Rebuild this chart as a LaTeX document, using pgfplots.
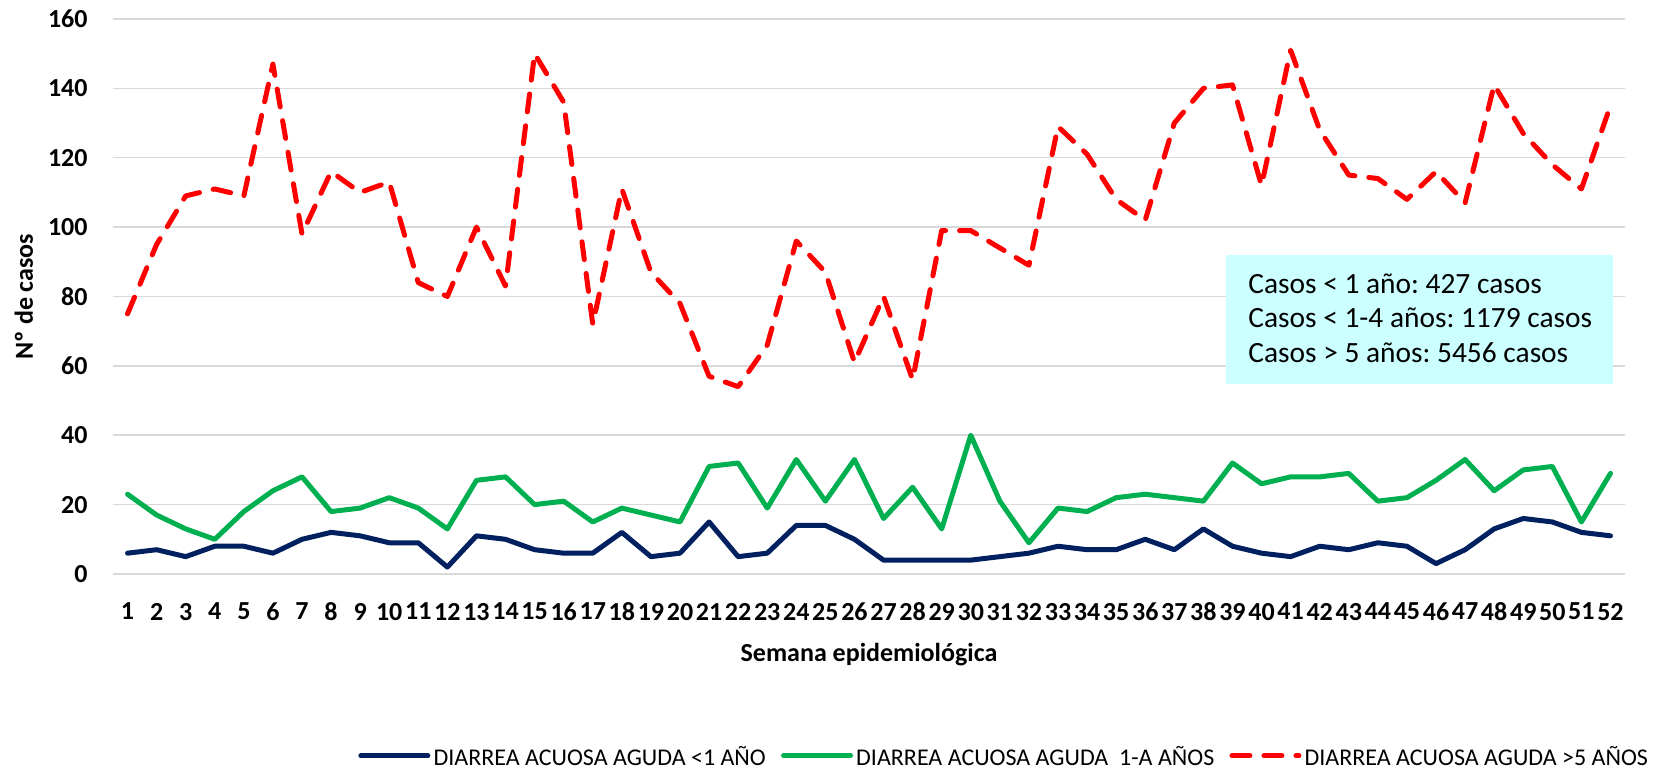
\documentclass[border=0pt]{standalone}
\usepackage{pgfplots}
\usepackage{pgfplotstable}
\pgfplotsset{compat=1.18}
\usepackage{fontspec}
\setmainfont{Carlito}
\frenchspacing
\definecolor{cblue}{HTML}{002060}
\definecolor{cgreen}{HTML}{00B050}
\definecolor{cred}{HTML}{FF0000}
\definecolor{cgrid}{HTML}{D9D9D9}
\definecolor{cbox}{HTML}{CCFFFF}
\pgfplotstableread{
week lt1 y14 gt5
1 6 23 75
2 7 17 95
3 5 13 109
4 8 10 111
5 8 18 109
6 6 24 147
7 10 28 98
8 12 18 116
9 11 19 110
10 9 22 113
11 9 19 84
12 2 13 80
13 11 27 100
14 10 28 83
15 7 20 150
16 6 21 136
17 6 15 72
18 12 19 111
19 5 17 87
20 6 15 78
21 15 31 57
22 5 32 54
23 6 19 66
24 14 33 96
25 14 21 87
26 10 33 61
27 4 16 80
28 4 25 56
29 4 13 99
30 4 40 99
31 5 21 94
32 6 9 89
33 8 19 129
34 7 18 121
35 7 22 108
36 10 23 102
37 7 22 130
38 13 21 140
39 8 32 141
40 6 26 112
41 5 28 151
42 8 28 128
43 7 29 115
44 9 21 114
45 8 22 108
46 3 27 116
47 7 33 107
48 13 24 141
49 16 30 127
50 15 31 118
51 12 15 111
52 11 29 135
}\datatable
\begin{document}
\begin{tikzpicture}
\path[use as bounding box] (0,0) rectangle (831.5pt,384.5pt);
\begin{axis}[
  at={(56.5pt,97.5pt)}, anchor=south west,
  scale only axis, width=756pt, height=277.5pt,
  xmin=0.5, xmax=52.5, ymin=0, ymax=160,
  xtick={1,...,52}, ytick={0,20,...,160},
  major tick length=0pt,
  axis line style={draw=none},
  ymajorgrids, major grid style={cgrid, line width=0.75pt},
  /pgf/number format/assume math mode=true,
  tick label style={font=\fontsize{13}{15.6}\selectfont\bfseries},
  yticklabel style={anchor=east, inner sep=0pt, xshift=-12.5pt},
  xticklabel style={anchor=north, inner sep=0pt, yshift=-14.3pt},
  xlabel={Semana epidemiológica},
  ylabel={Nº de casos},
  every axis x label/.style={at={(axis description cs:0.5,0)}, anchor=north, inner sep=0pt, yshift=-34.5pt, font=\fontsize{13}{15.6}\selectfont\bfseries},
  every axis y label/.style={at={(axis description cs:-0.0589,0.5)}, rotate=90, anchor=center, inner sep=0pt, font=\fontsize{13}{15.6}\selectfont\bfseries},
  legend columns=3,
  legend image code/.code={\draw[#1] (1.25pt,0pt) -- (34.75pt,0pt);},
  legend style={draw=none, fill=none, at={(axis description cs:0.162,-0.3275)}, anchor=west,
    inner sep=0pt, font=\fontsize{12}{14}\selectfont,
    nodes={inner xsep=1.6pt, inner ysep=0pt, text depth=0pt},
    /tikz/every even column/.append style={column sep=6pt}},
]
\addplot[cblue, line width=2.5pt, line join=round, line cap=round] table[x=week, y=lt1] {\datatable};
\addlegendentry{DIARREA ACUOSA AGUDA <1 AÑO}
\addplot[cgreen, line width=2.5pt, line join=round, line cap=round] table[x=week, y=y14] {\datatable};
\addlegendentry{DIARREA ACUOSA AGUDA\ \ 1-A AÑOS}
\addplot[cred, line width=2.5pt, line join=round, line cap=round, dash pattern=on 9pt off 7pt] table[x=week, y=gt5] {\datatable};
\addlegendentry{DIARREA ACUOSA AGUDA >5 AÑOS}
\end{axis}
\fill[cbox] (613pt,192.5pt) rectangle (806.5pt,257pt);
\node[anchor=west, align=left, inner sep=0pt, font=\fontsize{14.7}{17.2}\selectfont] at (624pt,225.5pt)
  {Casos < 1 año: 427 casos\\Casos < 1-4 años: 1179 casos\\Casos > 5 años: 5456 casos};
\end{tikzpicture}
\end{document}
